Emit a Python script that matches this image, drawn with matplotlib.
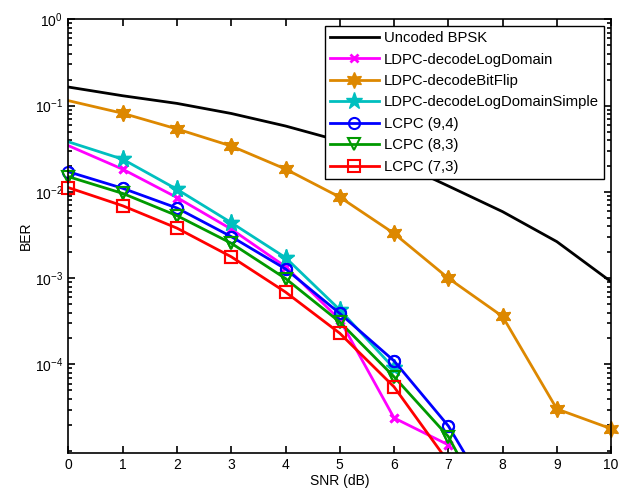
import numpy as np
import matplotlib
matplotlib.use("Agg")
import matplotlib.pyplot as plt

plt.rcParams['font.family'] = ['Liberation Sans', 'DejaVu Sans']
plt.rcParams['mathtext.default'] = 'regular'
plt.rcParams['axes.unicode_minus'] = False
plt.rcParams['font.size'] = 10

nan = np.nan
snr = [0, 1, 2, 3, 4, 5, 6, 7, 8, 9, 10]

# BER curves (nan = no errors counted / not simulated)
ber_uncoded = [0.164, 0.130, 0.106, 0.081, 0.058, 0.039, 0.023, 0.0117, 5.9e-3, 2.65e-3, 9.1e-4]
ber_logdomain = [0.0343, 0.0183, 8.6e-3, 3.7e-3, 1.36e-3, 3.3e-4, 2.4e-5, 1.17e-5, nan, nan, nan]
ber_bitflip = [0.114, 0.0814, 0.0536, 0.034, 0.0184, 8.7e-3, 3.3e-3, 1.0e-3, 3.6e-4, 3.05e-5, 1.8e-5]
ber_logsimple = [0.038, 0.0239, 0.0107, 4.4e-3, 1.73e-3, 4.3e-4, 9.0e-5, nan, nan, nan, nan]
ber_94 = [0.0171, 0.011, 6.5e-3, 3.03e-3, 1.28e-3, 3.9e-4, 1.1e-4, 1.94e-5, 1.7e-6, nan, nan]
ber_83 = [0.015, 9.6e-3, 5.3e-3, 2.54e-3, 9.9e-4, 3.1e-4, 7.2e-5, 1.46e-5, 1.0e-6, nan, nan]
ber_73 = [0.0112, 6.9e-3, 3.8e-3, 1.77e-3, 6.9e-4, 2.3e-4, 5.5e-5, 7.4e-6, nan, nan, nan]

ymin, ymax = 9.5e-6, 1
skip0 = list(range(1, 11))   # LDPC curves carry no marker at 0 dB

fig = plt.figure(figsize=(6.3, 4.95), dpi=100)
ax = fig.add_axes([0.1087, 0.0855, 0.8613, 0.8755])

series = [
    (ber_uncoded, 'Uncoded BPSK', dict(color='k')),
    (ber_logdomain, 'LDPC-decodeLogDomain',
     dict(color='#ff00ff', marker='x', ms=6, mew=2, markevery=skip0)),
    (ber_bitflip, 'LDPC-decodeBitFlip',
     dict(color='#dd8800', marker=(6, 1, 0), ms=11.5, markevery=skip0)),
    (ber_logsimple, 'LDPC-decodeLogDomainSimple',
     dict(color='#00bfbf', marker='*', ms=12.5, markevery=skip0)),
    (ber_94, 'LCPC (9,4)', dict(color='#0000ff', marker='o', ms=8, mfc='none', mew=1.5)),
    (ber_83, 'LCPC (8,3)', dict(color='#009900', marker='v', ms=9, mfc='none', mew=1.5)),
    (ber_73, 'LCPC (7,3)', dict(color='#ff0000', marker='s', ms=8, mfc='none', mew=1.5)),
]

for ber, name, style in series:
    ax.semilogy(snr, ber, lw=2, label=name, **style)
    # markers sitting on the axes edge are drawn whole, like MATLAB does
    if 'marker' in style:
        b = np.array(ber, dtype=float)
        b[(b < ymin) | (b > ymax)] = nan
        if 'markevery' in style:
            b[0] = nan
        mstyle = {k: v for k, v in style.items() if k != 'markevery'}
        ax.semilogy(snr, b, ls='none', clip_on=False, **mstyle)

ax.set_xlim(0, 10)
ax.set_ylim(ymin, ymax)
ax.set_xticks(range(0, 11))
ax.set_yticks([1e-4, 1e-3, 1e-2, 1e-1, 1])
minor = [k * 10.0 ** d for d in range(-5, 0) for k in range(1, 10) if not (k == 1 and d > -5)]
ax.set_yticks(minor, minor=True)
ax.yaxis.set_minor_formatter(matplotlib.ticker.NullFormatter())
ax.tick_params(which='both', direction='in', top=True, right=True, width=1.2)
ax.tick_params(which='major', length=5, pad=4)
ax.tick_params(which='minor', length=3)
for s in ax.spines.values():
    s.set_linewidth(1.2)

ax.set_xlabel('SNR (dB)', labelpad=1)
ax.set_ylabel('BER', labelpad=1)

leg = ax.legend(loc='upper right', numpoints=1, fancybox=False, framealpha=1,
                edgecolor='k', fontsize=10.7, handlelength=3.3, handletextpad=0.35,
                labelspacing=0.5, borderaxespad=0.45, borderpad=0.35)
leg.get_frame().set_linewidth(1.0)

fig.savefig('out.png', dpi=100)
